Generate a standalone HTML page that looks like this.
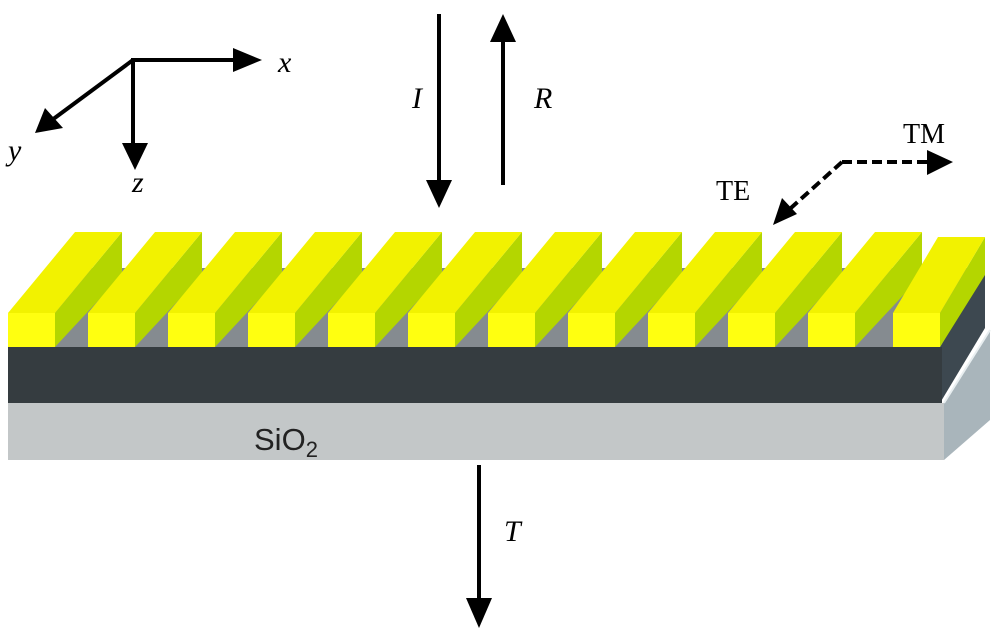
<!DOCTYPE html>
<html><head><meta charset="utf-8"><style>html,body{margin:0;padding:0;background:#fff}svg{display:block}</style></head>
<body>
<svg width="1000" height="636" viewBox="0 0 1000 636" xmlns="http://www.w3.org/2000/svg">
<polygon points="944,403 990,330 990,420 944,460" fill="#a9b5bb"/>
<line x1="944" y1="403" x2="990" y2="330" stroke="#e8eef0" stroke-width="2"/>
<rect x="8" y="403" width="936" height="57" fill="#c3c7c8"/>
<polygon points="940,347 985,270 985,328 940,403" fill="#3d4850"/>
<polygon points="8,347 940,347 985,268 75,268" fill="#858b90"/>
<rect x="8" y="347" width="934" height="56" fill="#353c40"/>
<g>
<polygon points="55,313 122,232 122,275 55,347" fill="#b4d600"/><polygon points="8,313 55,313 122,232 75,232" fill="#f2f200"/><rect x="8" y="313" width="47" height="34" fill="#ffff10"/>
<polygon points="135,313 202,232 202,275 135,347" fill="#b4d600"/><polygon points="88,313 135,313 202,232 155,232" fill="#f2f200"/><rect x="88" y="313" width="47" height="34" fill="#ffff10"/>
<polygon points="215,313 282,232 282,275 215,347" fill="#b4d600"/><polygon points="168,313 215,313 282,232 235,232" fill="#f2f200"/><rect x="168" y="313" width="47" height="34" fill="#ffff10"/>
<polygon points="295,313 362,232 362,275 295,347" fill="#b4d600"/><polygon points="248,313 295,313 362,232 315,232" fill="#f2f200"/><rect x="248" y="313" width="47" height="34" fill="#ffff10"/>
<polygon points="375,313 442,232 442,275 375,347" fill="#b4d600"/><polygon points="328,313 375,313 442,232 395,232" fill="#f2f200"/><rect x="328" y="313" width="47" height="34" fill="#ffff10"/>
<polygon points="455,313 522,232 522,275 455,347" fill="#b4d600"/><polygon points="408,313 455,313 522,232 475,232" fill="#f2f200"/><rect x="408" y="313" width="47" height="34" fill="#ffff10"/>
<polygon points="535,313 602,232 602,275 535,347" fill="#b4d600"/><polygon points="488,313 535,313 602,232 555,232" fill="#f2f200"/><rect x="488" y="313" width="47" height="34" fill="#ffff10"/>
<polygon points="615,313 682,232 682,275 615,347" fill="#b4d600"/><polygon points="568,313 615,313 682,232 635,232" fill="#f2f200"/><rect x="568" y="313" width="47" height="34" fill="#ffff10"/>
<polygon points="695,313 762,232 762,275 695,347" fill="#b4d600"/><polygon points="648,313 695,313 762,232 715,232" fill="#f2f200"/><rect x="648" y="313" width="47" height="34" fill="#ffff10"/>
<polygon points="775,313 842,232 842,275 775,347" fill="#b4d600"/><polygon points="728,313 775,313 842,232 795,232" fill="#f2f200"/><rect x="728" y="313" width="47" height="34" fill="#ffff10"/>
<polygon points="855,313 922,232 922,275 855,347" fill="#b4d600"/><polygon points="808,313 855,313 922,232 875,232" fill="#f2f200"/><rect x="808" y="313" width="47" height="34" fill="#ffff10"/>
<polygon points="940,313 985,237 985,275 940,347" fill="#b4d600"/><polygon points="893,313 940,313 985,237 938,237" fill="#f2f200"/><rect x="893" y="313" width="47" height="34" fill="#ffff10"/>
</g>
<text x="254" y="450" font-family="Liberation Sans, sans-serif" font-size="31" fill="#222">SiO<tspan font-size="22" dy="7">2</tspan></text>
<g stroke="#000" stroke-width="4" fill="none">
<line x1="131" y1="60" x2="236" y2="60"/>
<line x1="133" y1="60" x2="133" y2="145"/>
<line x1="133" y1="60" x2="52" y2="120"/>
<line x1="439" y1="14" x2="439" y2="182"/>
<line x1="503" y1="40" x2="503" y2="185"/>
<line x1="479" y1="465" x2="479" y2="600"/>
<path d="M842,162 L948,162 M842,162 L782,216" stroke-dasharray="10,5"/>
</g>
<g fill="#000">
<polygon points="262,60 233,48 233,72"/>
<polygon points="135,170 122,143 148,143"/>
<polygon points="35,133 45,108 63,128"/>
<polygon points="439,208 426,180 452,180"/>
<polygon points="503,14 490,42 516,42"/>
<polygon points="479,628 466,598 492,598"/>
<polygon points="953,162 927,150 927,175"/>
<polygon points="773,225 782,198 797,214"/>
</g>
<g font-family="Liberation Serif, serif" font-style="italic" font-size="30" fill="#000">
<text x="278" y="72">x</text>
<text x="8" y="160">y</text>
<text x="132" y="192">z</text>
<text x="412" y="108">I</text>
<text x="534" y="108">R</text>
<text x="504" y="541">T</text>
</g>
<g font-family="Liberation Serif, serif" font-size="28" fill="#000">
<text x="903" y="143">TM</text>
<text x="716" y="200">TE</text>
</g>
</svg>
</body></html>
